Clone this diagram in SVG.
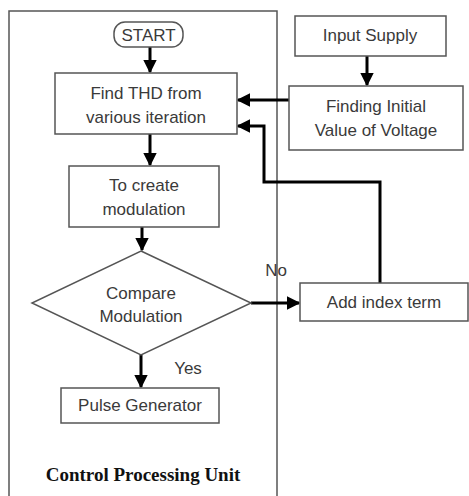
<svg xmlns="http://www.w3.org/2000/svg" width="469" height="496" viewBox="0 0 469 496">
<style>
.box{fill:#fff;stroke:#555;stroke-width:1.5}
.frame{fill:none;stroke:#555;stroke-width:1.5}
.t{font-family:"Liberation Sans",Arial,sans-serif;font-size:17px;fill:#3a3a3a;text-anchor:middle}
.c{fill:none;stroke:#000;stroke-width:3}
.title{font-family:"Liberation Serif","Times New Roman",serif;font-size:19px;font-weight:bold;fill:#111;text-anchor:middle}
</style>
<defs>
<marker id="ah" viewBox="0 0 10 10" refX="9" refY="5" markerWidth="4.5" markerHeight="4.5" orient="auto" markerUnits="strokeWidth">
<path d="M0,0 L10,5 L0,10 z" fill="#000"/>
</marker>
</defs>
<rect width="469" height="496" fill="#fff"/>
<g id="frame">
<path class="frame" d="M9,500 V11 H277 V500"/>
<text class="title" x="143" y="481">Control Processing Unit</text>
</g>
<g id="connectors">
<line class="c" x1="150" y1="47" x2="150" y2="72" marker-end="url(#ah)"/>
<line class="c" x1="150" y1="134" x2="150" y2="165" marker-end="url(#ah)"/>
<line class="c" x1="142" y1="227" x2="142" y2="250" marker-end="url(#ah)"/>
<line class="c" x1="141" y1="355" x2="141" y2="387" marker-end="url(#ah)"/>
<line class="c" x1="251" y1="303" x2="299" y2="303" marker-end="url(#ah)"/>
<polyline class="c" points="380,283 380,182 264,182 264,126 238,126" marker-end="url(#ah)"/>
<line class="c" x1="367" y1="56" x2="367" y2="85" marker-end="url(#ah)"/>
<line class="c" x1="289" y1="100" x2="238" y2="100" marker-end="url(#ah)"/>
<text class="t" x="276" y="276">No</text>
<text class="t" x="188" y="374">Yes</text>
</g>
<g id="start">
<rect class="box" x="114" y="22" width="69" height="25" rx="11"/>
<text class="t" x="148.5" y="40.5">START</text>
</g>
<g id="find-thd">
<rect class="box" x="55" y="73" width="182" height="61"/>
<text class="t" x="146" y="99">Find THD from</text>
<text class="t" x="146" y="123">various iteration</text>
</g>
<g id="create-mod">
<rect class="box" x="69" y="166" width="150" height="61"/>
<text class="t" x="144" y="191">To create</text>
<text class="t" x="144" y="215">modulation</text>
</g>
<g id="compare">
<polygon class="box" points="141,251 251,303 141,355 32,303"/>
<text class="t" x="141" y="299">Compare</text>
<text class="t" x="141" y="322">Modulation</text>
</g>
<g id="pulse">
<rect class="box" x="61" y="388" width="158" height="35"/>
<text class="t" x="140" y="411">Pulse Generator</text>
</g>
<g id="input-supply">
<rect class="box" x="295" y="16" width="151" height="40"/>
<text class="t" x="370" y="41">Input Supply</text>
</g>
<g id="finding-initial">
<rect class="box" x="289" y="86" width="174" height="64"/>
<text class="t" x="376" y="112">Finding Initial</text>
<text class="t" x="376" y="136">Value of Voltage</text>
</g>
<g id="add-index">
<rect class="box" x="300" y="283" width="168" height="38"/>
<text class="t" x="384" y="308">Add index term</text>
</g>
</svg>
